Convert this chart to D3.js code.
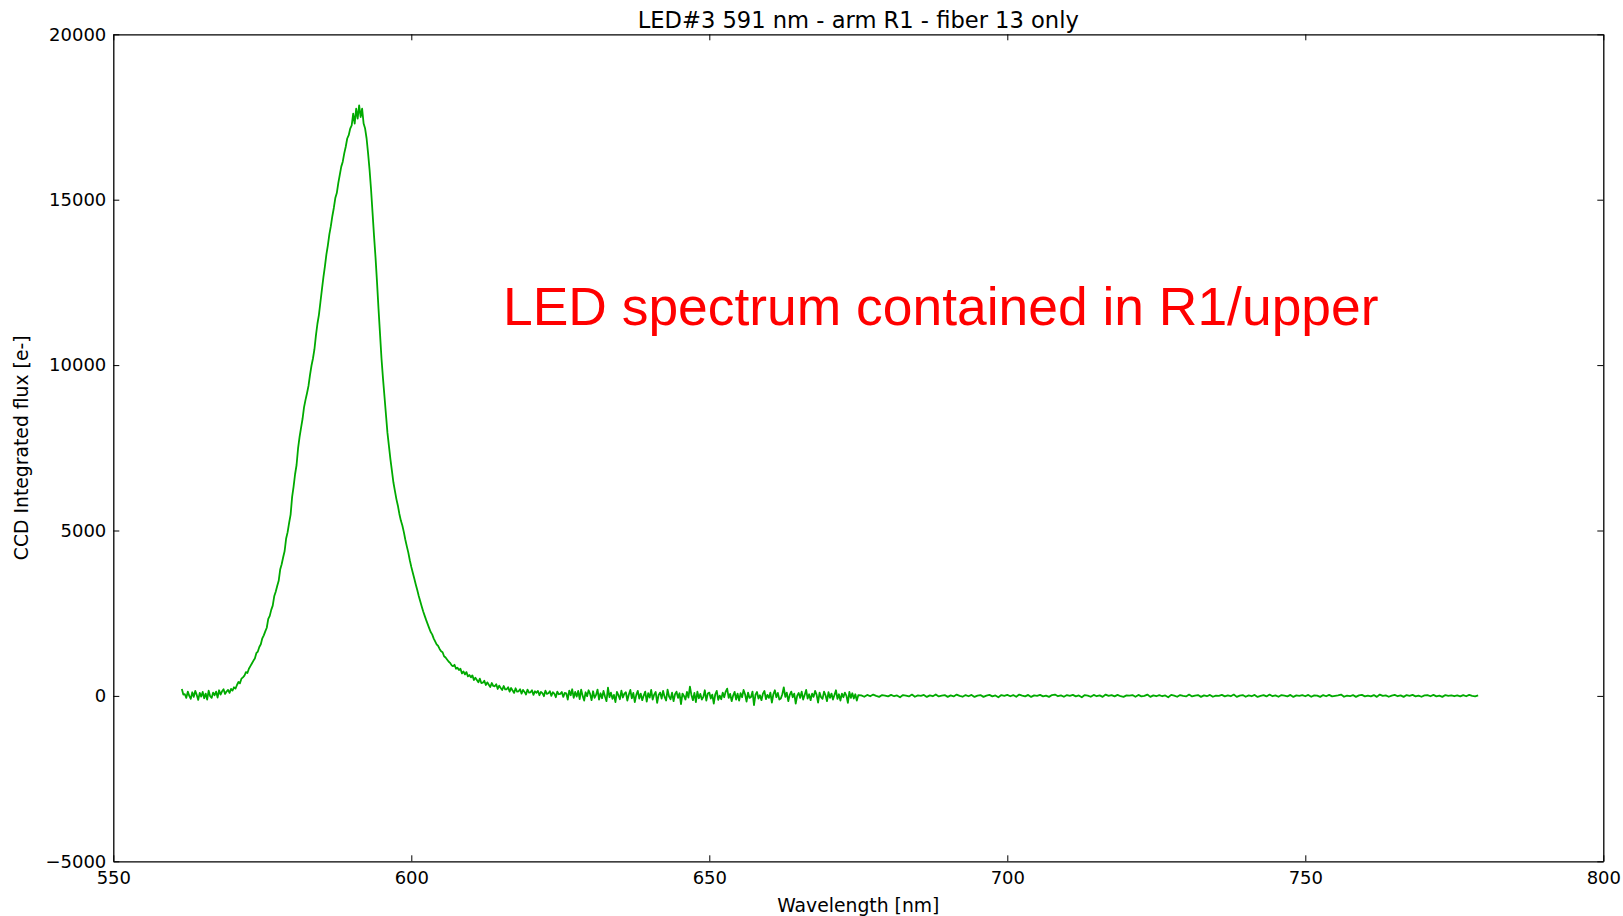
<!DOCTYPE html>
<html>
<head>
<meta charset="utf-8">
<script src="https://cdn.jsdelivr.net/npm/d3@7"></script>
<style>
  html, body { margin: 0; padding: 0; background: #fff; }
  svg { display: block; }
  text { font-family: "DejaVu Sans", sans-serif; fill: #000; }
</style>
</head>
<body>
<svg id="chart" width="1623" height="916"></svg>
<script>
// ---- data ----
const titleText = "LED#3 591 nm - arm R1 - fiber 13 only";
const xLabelText = "Wavelength [nm]";
const yLabelText = "CCD Integrated flux [e-]";
const annotationText = "LED spectrum contained in R1/upper";

const xTicks = [550, 600, 650, 700, 750, 800];
const yTicks = [-5000, 0, 5000, 10000, 15000, 20000];

// segment A: 561.5 nm .. 675.0 nm, every 0.25 nm
const segAStart = 561.5, segAStep = 0.25;
const fluxA = [
  210, 40,
  50, -60, 130, 0,
  -90, 110, -30, 150,
  30, -120, 90, -20,
  120, -70, 70, -110,
  160, -10, -60, 100,
  20, 130, -50, 170,
  40, 140, 200, 60,
  130, 180, 90, 210,
  160, 260, 220, 330,
  420, 380, 520, 560,
  610, 720, 690, 820,
  900, 980, 1060, 1130,
  1290, 1340, 1480, 1560,
  1740, 1830, 1950, 2060,
  2330, 2420, 2600, 2730,
  3010, 3150, 3320, 3480,
  3820, 3980, 4190, 4380,
  4760, 4950, 5230, 5480,
  6010, 6330, 6700, 6980,
  7480, 7820, 8100, 8370,
  8720, 8950, 9150, 9370,
  9700, 9980, 10200, 10480,
  10900, 11250, 11520, 11900,
  12280, 12650, 12980, 13340,
  13620, 13950, 14200, 14500,
  14750, 15050, 15200, 15500,
  15750, 16000, 16150, 16400,
  16600, 16850, 16950, 17150,
  17250, 17600, 17300, 17750,
  17450, 17850, 17500, 17750,
  17300, 17150, 16850, 16400,
  15900, 15300, 14600, 13900,
  13250, 12500, 11700, 10950,
  10200, 9600, 9050, 8500,
  7950, 7550, 7150, 6800,
  6450, 6200, 5950, 5750,
  5500, 5300, 5150, 4950,
  4720, 4520, 4330, 4100,
  3900, 3720, 3550, 3370,
  3200, 3020, 2860, 2700,
  2550, 2420, 2290, 2170,
  2050, 1930, 1860, 1740,
  1650, 1560, 1510, 1420,
  1350, 1320, 1200, 1160,
  1100, 1040, 1000, 930,
  900, 940, 820, 850,
  780, 820, 680, 740,
  650, 720, 590, 630,
  560, 620, 480, 550,
  480, 410, 520, 390,
  400, 460, 330, 410,
  340, 270, 390, 300,
  290, 350, 210, 310,
  240, 180, 300, 200,
  200, 260, 130, 240,
  160, 90, 230, 130,
  140, 200, 70, 180,
  120, 40, 190, 100,
  110, 170, 30, 140,
  95, 150, 20, 120,
  85, -10, 160, 60,
  80, 140, 0, 110,
  70, -40, 130, 50,
  60, 120, -30, 90,
  80, -110, 160, 20,
  200, -60, 120, -20,
  150, -100, 190, 0,
  -140, 110, -10, 170,
  60, -130, 140, -60,
  30, 190, -110, 80,
  -70, 150, -20, -160,
  250, -40, 100, -90,
  30, -190, 120, 20,
  -100, 160, -50, 70,
  110, -140, 40, 180,
  -70, 90, -190, 30,
  150, -80, 70, -130,
  10, 130, -170, 80,
  -50, 180, -110, 40,
  120, -210, 30, 100,
  -80, 150, -30, -140,
  190, -20, -100, 100,
  -160, 50, 130, -60,
  80, -250, 70, 0,
  -110, 120, -50, 280,
  30, -130, 90, -190,
  130, -70, 60, -110,
  -30, 170, -140, 70,
  100, -80, 40, -230,
  50, 150, -120, 10,
  -100, 100, -40, 130,
  220, -60, 60, -160,
  10, 120, -110, 70,
  -140, 80, -40, 180,
  50, -170, 100, -60,
  -30, 130, -280, 40,
  120, -80, 20, -130,
  70, 150, -100, 30,
  -60, 100, -200, 50,
  170, -40, 90, -110,
  -80, 50, 260, -30,
  100, -160, 30, 130,
  -40, 70, -230, 10,
  90, -60, 130, -110,
  30, 180, -80, 50,
  -130, 70, -30, 150,
  40, -200, 100, -40,
  -90, 130, 20, -160,
  110, -60, 70, -110,
  30, 170, -90, 50,
  -140, 70, -40, 100,
  10, -210, 120, -60,
  80, -80, 50, -140,
  20
];

// segment B: 675.5 nm .. 779.0 nm, every 0.5 nm
const segBStart = 675.5, segBStep = 0.5;
const fluxB = [
  15, -25, 30, -10, 40, 0, -30, 25, 10, -15,
  30, -10, 15, -40, 25, 10, -15, 40, -25, 15,
  0, 30, -30, 15, -10, 45, -15, 10, 25, -30,
  15, -15, 40, 0, -25, 25, -10, 30, -30, 10,
  25, -30, 10, 30, -15, 15, -40, 25, 0, 30,
  -10, 25, -25, 40, 10, -15, 30, -30, 15, 0,
  30, -15, 10, -30, 25, 40, -10, 15, -25, 25,
  0, 30, -15, 15, -40, 25, 10, -25, 30, -10,
  15, -30, 40, 0, 25, -15, 30, -10, -30, 15,
  10, 25, -25, 30, -15, 0, 40, -30, 15, -10,
  25, -10, 15, -40, 30, 10, -25, 25, 0, -15,
  40, -15, 10, 25, -30, 15, -10, 30, -25, 10,
  0, 30, -15, 15, -10, 40, -30, 10, 25, -25,
  15, -10, 30, -30, 0, 25, -15, 40, -10, 15,
  -25, 25, 10, -15, 30, -30, 15, 0, 25, -10,
  30, -25, 15, 10, -30, 25, -10, 30, -15, 0,
  15, 40, -25, 10, -10, 25, -30, 15, 30, -15,
  10, -15, 25, -30, 40, 0, 15, -25, 10, 30,
  -10, 15, -30, 25, 0, 30, -15, 10, -25, 15,
  25, -10, 30, -15, 10, -30, 25, 0, 15, -10,
  15, -15, 25, -10, 30, 0, -15, 15
];

// ---- build points ----
const points = [];
fluxA.forEach((v, i) => points.push([segAStart + i * segAStep, v]));
fluxB.forEach((v, i) => points.push([segBStart + i * segBStep, v]));

// ---- layout ----
const L = 113.3, R = 1603.3, T = 34.3, B = 861.3;
const svg = d3.select("#chart");

const x = d3.scaleLinear().domain([550, 800]).range([L, R]);
const y = d3.scaleLinear().domain([-5000, 20000]).range([B, T]);
const fmt = d3.format("d");

// data line
svg.append("path")
  .datum(points)
  .attr("fill", "none")
  .attr("stroke", "#00aa00")
  .attr("stroke-width", 1.8)
  .attr("stroke-linejoin", "round")
  .attr("d", d3.line().x(d => x(d[0])).y(d => y(d[1])));

// axes
const gx = svg.append("g").attr("transform", `translate(0,${B})`)
  .call(d3.axisBottom(x).tickValues(xTicks).tickFormat(fmt).tickSizeInner(-6).tickSizeOuter(0).tickPadding(10));
const gxt = svg.append("g").attr("transform", `translate(0,${T})`)
  .call(d3.axisTop(x).tickValues(xTicks).tickFormat("").tickSizeInner(-6).tickSizeOuter(0));
const gy = svg.append("g").attr("transform", `translate(${L},0)`)
  .call(d3.axisLeft(y).tickValues(yTicks).tickFormat(fmt).tickSizeInner(-6).tickSizeOuter(0).tickPadding(7));
const gyr = svg.append("g").attr("transform", `translate(${R},0)`)
  .call(d3.axisRight(y).tickValues(yTicks).tickFormat("").tickSizeInner(-6).tickSizeOuter(0));

[gx, gxt, gy, gyr].forEach(g => {
  g.selectAll("text").style("font-family", "DejaVu Sans").style("font-size", "18px").attr("fill", "#000");
  g.selectAll("line").attr("stroke", "#000").attr("stroke-width", 1);
  g.select(".domain").attr("stroke", "#000").attr("stroke-width", 1.3);
});

// title
svg.append("text")
  .attr("x", (L + R) / 2).attr("y", 28)
  .attr("text-anchor", "middle")
  .style("font-size", "22.6px")
  .text(titleText);

// x label
svg.append("text")
  .attr("x", (L + R) / 2).attr("y", 911.5)
  .attr("text-anchor", "middle")
  .style("font-size", "18.8px")
  .text(xLabelText);

// y label
svg.append("text")
  .attr("transform", `translate(28,${(T + B) / 2}) rotate(-90)`)
  .attr("text-anchor", "middle")
  .style("font-size", "18.8px")
  .text(yLabelText);

// annotation
svg.append("text")
  .attr("x", 503).attr("y", 325)
  .style("font-family", "Liberation Sans, Arial, sans-serif")
  .style("font-size", "53.4px")
  .style("fill", "#ff0000")
  .text(annotationText);
</script>
</body>
</html>
